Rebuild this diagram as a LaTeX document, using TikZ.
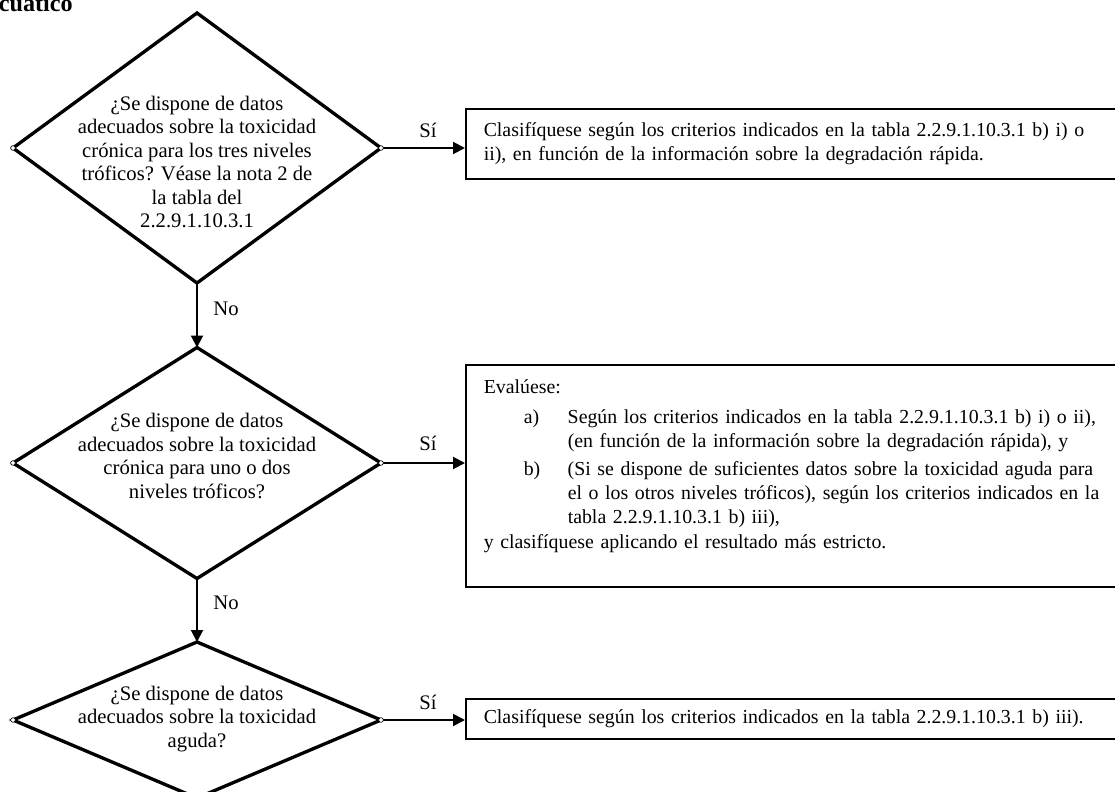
\documentclass[tikz,border=0pt]{standalone}
\usepackage{fontspec}
\setmainfont{Liberation Serif}
\usetikzlibrary{shapes.geometric,arrows.meta}
\begin{document}
\begin{tikzpicture}[x=0.6pt,y=-0.6pt,
  font=\fontsize{12.4}{14.1}\selectfont,
  decision/.style={diamond, draw, line width=2pt, inner sep=0pt, outer sep=0pt, minimum width=220.8pt},
  qtext/.style={align=center, inner sep=0pt},
  outbox/.style={draw, line width=0.9pt, anchor=west, align=left, inner xsep=10.8pt, inner ysep=0pt,
                 text width=386.4pt, minimum width=408pt, font=\fontsize{11.9}{14.4}\selectfont},
  flow/.style={line width=1.2pt, -{Triangle[length=7.2pt,width=7.2pt]}},
  lbl/.style={inner sep=0pt},
  portmark/.style={draw, fill=white, line width=0.4pt}
]
\useasboundingbox (0,0) rectangle (1115,792);
\clip (0,0) rectangle (1115,792);

% heading (partly cut off)
\node[font=\bfseries\fontsize{14.5}{16}\selectfont, anchor=base east, inner sep=0pt] (title) at (73,11) {acuático};

% decisions
\node[decision, minimum height=162pt] (d1) at (197,148) {};
\node[qtext] (q1) at (197,162) {¿Se dispone de datos\\adecuados sobre la toxicidad\\crónica para los tres niveles\\tróficos? Véase la nota 2 de\\la tabla del\\2.2.9.1.10.3.1};

\node[decision, minimum height=138.6pt] (d2) at (197,463) {};
\node[qtext] (q2) at (197,456) {¿Se dispone de datos\\adecuados sobre la toxicidad\\crónica para uno o dos\\niveles tróficos?};

\node[decision, minimum height=93.6pt] (d3) at (197,720) {};
\node[qtext] (q3) at (197,719) {¿Se dispone de datos\\adecuados sobre la toxicidad\\aguda?};

% outcome boxes
\node[outbox, minimum height=42pt] (b1) at (465,144) {Clasifíquese según los criterios indicados en la tabla 2.2.9.1.10.3.1 b) i) o\\ii), en función de la información sobre la degradación rápida.};

\node[outbox, minimum height=133.2pt] (b2) at (465,476) {Evalúese:\\[3.6pt]
\hspace*{24pt}\makebox[26.4pt][l]{a)}Según los criterios indicados en la tabla 2.2.9.1.10.3.1 b) i) o ii),\\
\hspace*{50.4pt}(en función de la información sobre la degradación rápida), y\\[2.4pt]
\hspace*{24pt}\makebox[26.4pt][l]{b)}(Si se dispone de suficientes datos sobre la toxicidad aguda para\\
\hspace*{50.4pt}el o los otros niveles tróficos), según los criterios indicados en la\\
\hspace*{50.4pt}tabla 2.2.9.1.10.3.1 b) iii),\\[0.6pt]
y clasifíquese aplicando el resultado más estricto.\\
\mbox{}};

\node[outbox, minimum height=24pt] (b3) at (465,719) {Clasifíquese según los criterios indicados en la tabla 2.2.9.1.10.3.1 b) iii).};

% connectors
\draw[flow] (d1.east) -- (d1.east -| b1.west);
\draw[flow] (d1.south) -- (d2.north);
\draw[flow] (d2.east) -- (d2.east -| b2.west);
\draw[flow] (d2.south) -- (d3.north);
\draw[flow] (d3.east) -- (d3.east -| b3.west);

% labels
\node[lbl] (s1) at (428,130) {Sí};
\node[lbl] (n1) at (226,309) {No};
\node[lbl] (s2) at (428,443) {Sí};
\node[lbl] (n2) at (226,603) {No};
\node[lbl] (s3) at (428,702) {Sí};

% connection points
\foreach \d in {d1,d2,d3}{
  \draw[portmark] (\d.west) circle (1.4pt);
  \draw[portmark] (\d.east) circle (1.4pt);
}
\end{tikzpicture}
\end{document}
